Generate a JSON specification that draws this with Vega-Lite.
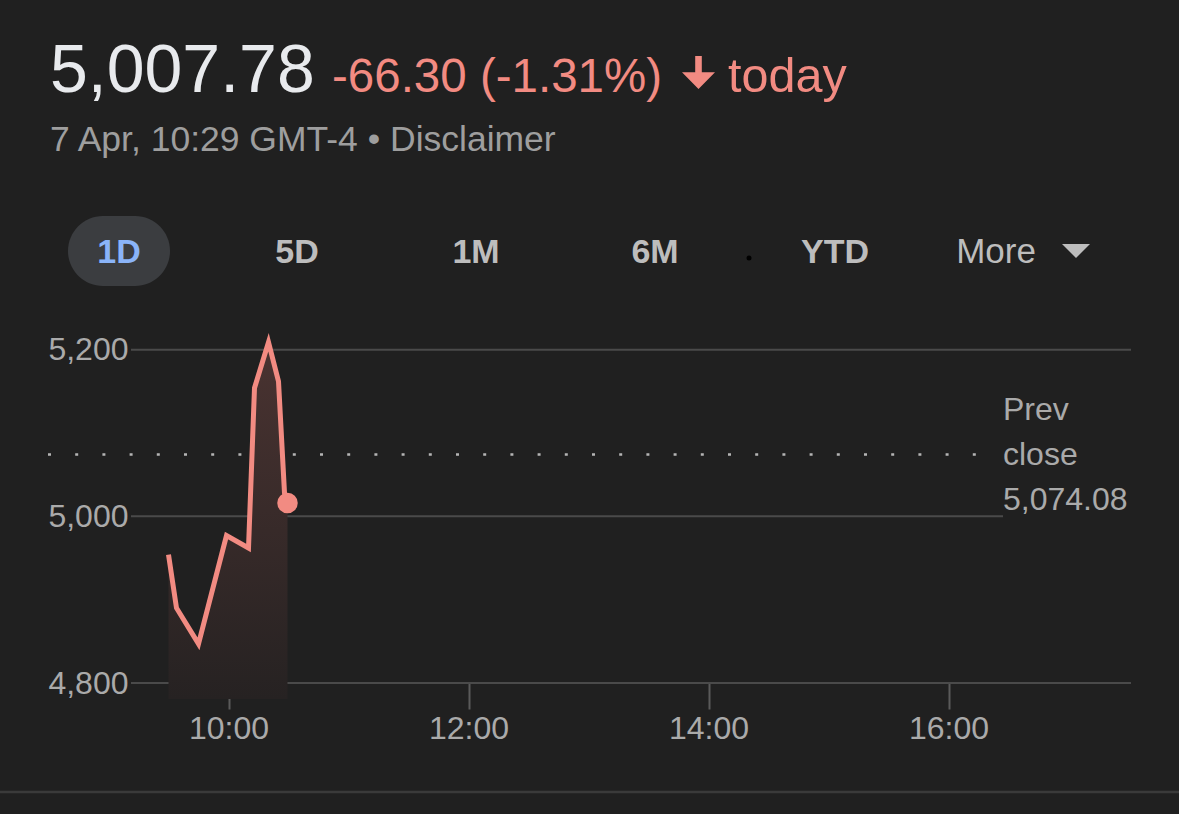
{
  "$schema": "https://vega.github.io/schema/vega-lite/v6.json",
  "width": 1000,
  "height": 353,
  "autosize": "none",
  "padding": {"left": 131, "top": 330, "right": 48, "bottom": 131},
  "background": "#202020",
  "config": {"view": {"stroke": null}, "font": "Liberation Sans"},
  "data": {
    "values": [
      {"time": "2025-04-07T09:30:00Z", "price": 4954},
      {"time": "2025-04-07T09:34:00Z", "price": 4890},
      {"time": "2025-04-07T09:45:00Z", "price": 4847},
      {"time": "2025-04-07T09:59:00Z", "price": 4977},
      {"time": "2025-04-07T10:10:00Z", "price": 4962},
      {"time": "2025-04-07T10:13:00Z", "price": 5154},
      {"time": "2025-04-07T10:20:00Z", "price": 5209},
      {"time": "2025-04-07T10:25:00Z", "price": 5162},
      {"time": "2025-04-07T10:28:00Z", "price": 5028},
      {"time": "2025-04-07T10:29:30Z", "price": 5016}
    ]
  },
  "layer": [
    {
      "data": {"values": [{"name": "separator", "level": 4669.2}]},
      "mark": {"type": "rule", "color": "#3a3a3a", "strokeWidth": 2.5},
      "encoding": {
        "y": {"field": "level", "type": "quantitative"},
        "x": {"datum": {"year": 2025, "month": 4, "date": 7, "hours": 8, "minutes": 5, "seconds": 45, "utc": true}, "type": "temporal"},
        "x2": {"datum": {"year": 2025, "month": 4, "date": 7, "hours": 17, "minutes": 55, "seconds": 15, "utc": true}}
      }
    },
    {
      "data": {"values": [{"level": 4800}, {"level": 5200}]},
      "mark": {"type": "rule", "color": "#4a4a4a", "strokeWidth": 2},
      "encoding": {"y": {"field": "level", "type": "quantitative"}}
    },
    {
      "data": {"values": [{"level": 5000}]},
      "mark": {"type": "rule", "color": "#4a4a4a", "strokeWidth": 2},
      "encoding": {
        "y": {"field": "level", "type": "quantitative"},
        "x": {"datum": {"year": 2025, "month": 4, "date": 7, "hours": 9, "minutes": 11, "seconds": 15, "utc": true}, "type": "temporal"},
        "x2": {"datum": {"year": 2025, "month": 4, "date": 7, "hours": 16, "minutes": 27, "seconds": 15, "utc": true}}
      }
    },
    {
      "data": {"values": [{"label": "Prev close", "value": 5074.08}]},
      "mark": {"type": "rule", "color": "#b5b5b5", "strokeWidth": 2.5, "strokeDash": [3, 24.2]},
      "encoding": {
        "y": {"field": "value", "type": "quantitative"},
        "x": {"datum": {"year": 2025, "month": 4, "date": 7, "hours": 8, "minutes": 29, "seconds": 45, "utc": true}, "type": "temporal"},
        "x2": {"datum": {"year": 2025, "month": 4, "date": 7, "hours": 16, "minutes": 25, "seconds": 45, "utc": true}}
      }
    },
    {
      "mark": {
        "type": "area",
        "line": false,
        "color": {
          "x1": 0, "y1": 0, "x2": 0, "y2": 1,
          "gradient": "linear",
          "stops": [
            {"offset": 0, "color": "#4a3331"},
            {"offset": 1, "color": "#262222"}
          ]
        }
      },
      "encoding": {
        "x": {"field": "time", "type": "temporal"},
        "y": {"field": "price", "type": "quantitative"},
        "y2": {"datum": 4780.8}
      }
    },
    {
      "mark": {"type": "line", "color": "#f28b82", "strokeWidth": 5, "strokeJoin": "miter"},
      "encoding": {
        "x": {
          "field": "time",
          "type": "temporal",
          "scale": {
            "type": "utc",
            "nice": false,
            "domain": [
              {"year": 2025, "month": 4, "date": 7, "hours": 9, "minutes": 11, "seconds": 15, "utc": true},
              {"year": 2025, "month": 4, "date": 7, "hours": 17, "minutes": 31, "seconds": 15, "utc": true}
            ]
          },
          "axis": {
            "values": [
              {"year": 2025, "month": 4, "date": 7, "hours": 10, "utc": true},
              {"year": 2025, "month": 4, "date": 7, "hours": 12, "utc": true},
              {"year": 2025, "month": 4, "date": 7, "hours": 14, "utc": true},
              {"year": 2025, "month": 4, "date": 7, "hours": 16, "utc": true}
            ],
            "format": "%H:%M",
            "labelFontSize": 32,
            "labelFont": "Liberation Sans",
            "labelColor": "#aaaaaa",
            "tickSize": 26,
            "tickColor": "#5a5a5a",
            "tickWidth": 2,
            "domain": false,
            "grid": false,
            "labelPadding": 4,
            "labelFlush": false,
            "labelOverlap": false,
            "title": null
          }
        },
        "y": {
          "field": "price",
          "type": "quantitative",
          "scale": {"domain": [4800, 5223.6], "nice": false, "zero": false},
          "axis": {
            "values": [4800, 5000, 5200],
            "format": ",.0f",
            "labelFontSize": 32,
            "labelFont": "Liberation Sans",
            "labelColor": "#aaaaaa",
            "ticks": false,
            "domain": false,
            "grid": false,
            "labelPadding": 3,
            "labelFlush": false,
            "labelOverlap": false,
            "title": null
          }
        }
      }
    },
    {
      "transform": [
        {"joinaggregate": [{"op": "max", "field": "time", "as": "last"}]},
        {"filter": "+datum.time === +datum.last"}
      ],
      "mark": {"type": "point", "filled": true, "opacity": 1, "color": "#f28b82", "size": 420},
      "encoding": {
        "x": {"field": "time", "type": "temporal"},
        "y": {"field": "price", "type": "quantitative"}
      }
    },
    {
      "data": {"values": [{"label": "Prev close", "value": 5074.08}]},
      "mark": {"type": "text", "align": "left", "baseline": "middle", "fontSize": 32, "lineHeight": 45, "color": "#aaaaaa", "dy": -45},
      "encoding": {
        "text": {"value": ["Prev", "close", "5,074.08"]},
        "y": {"field": "value", "type": "quantitative"},
        "x": {"datum": {"year": 2025, "month": 4, "date": 7, "hours": 16, "minutes": 27, "seconds": 15, "utc": true}, "type": "temporal"}
      }
    },
    {
      "data": {"values": [{"label": "5,007.78"}]},
      "mark": {"type": "text", "align": "left", "baseline": "alphabetic", "fontSize": 68, "color": "#e8eaed"},
      "encoding": {
        "text": {"field": "label"},
        "x": {"datum": {"year": 2025, "month": 4, "date": 7, "hours": 8, "minutes": 30, "seconds": 45, "utc": true}, "type": "temporal"},
        "y": {"datum": 5509.2, "type": "quantitative"}
      }
    },
    {
      "data": {"values": [{"label": "-66.30 (-1.31%)"}]},
      "mark": {"type": "text", "align": "left", "baseline": "alphabetic", "fontSize": 47.5, "color": "#f28b82"},
      "encoding": {
        "text": {"field": "label"},
        "x": {"datum": {"year": 2025, "month": 4, "date": 7, "hours": 10, "minutes": 51, "seconds": 45, "utc": true}, "type": "temporal"},
        "y": {"datum": 5509.2, "type": "quantitative"}
      }
    },
    {
      "data": {"values": [{"label": "down arrow"}]},
      "mark": {"type": "point", "filled": true, "opacity": 1, "color": "#f28b82", "size": 1089, "shape": "M-0.2,-1L0.2,-1L0.2,-0.02L1,-0.02L0,1L-1,-0.02L-0.2,-0.02Z"},
      "encoding": {
        "x": {"datum": {"year": 2025, "month": 4, "date": 7, "hours": 13, "minutes": 55, "utc": true}, "type": "temporal"},
        "y": {"datum": 5532.6, "type": "quantitative"}
      }
    },
    {
      "data": {"values": [{"label": "today"}]},
      "mark": {"type": "text", "align": "left", "baseline": "alphabetic", "fontSize": 48.5, "color": "#f28b82"},
      "encoding": {
        "text": {"field": "label"},
        "x": {"datum": {"year": 2025, "month": 4, "date": 7, "hours": 14, "minutes": 9, "seconds": 45, "utc": true}, "type": "temporal"},
        "y": {"datum": 5509.2, "type": "quantitative"}
      }
    },
    {
      "data": {"values": [{"label": "7 Apr, 10:29 GMT-4 • Disclaimer"}]},
      "mark": {"type": "text", "align": "left", "baseline": "alphabetic", "fontSize": 35.5, "color": "#9e9e9e"},
      "encoding": {
        "text": {"field": "label"},
        "x": {"datum": {"year": 2025, "month": 4, "date": 7, "hours": 8, "minutes": 30, "seconds": 45, "utc": true}, "type": "temporal"},
        "y": {"datum": 5438.4, "type": "quantitative"}
      }
    },
    {
      "data": {"values": [{"range": "1D"}]},
      "mark": {"type": "rect", "color": "#3b3d40", "cornerRadius": 35},
      "encoding": {
        "x": {"datum": {"year": 2025, "month": 4, "date": 7, "hours": 8, "minutes": 39, "seconds": 45, "utc": true}, "type": "temporal"},
        "x2": {"datum": {"year": 2025, "month": 4, "date": 7, "hours": 9, "minutes": 30, "seconds": 45, "utc": true}},
        "y": {"datum": 5360.4, "type": "quantitative"},
        "y2": {"datum": 5276.4}
      }
    },
    {
      "data": {"values": [{"label": "1D"}]},
      "mark": {"type": "text", "align": "center", "baseline": "alphabetic", "fontSize": 34, "fontWeight": "bold", "color": "#8ab4f8"},
      "encoding": {
        "text": {"field": "label"},
        "x": {"datum": {"year": 2025, "month": 4, "date": 7, "hours": 9, "minutes": 5, "seconds": 15, "utc": true}, "type": "temporal"},
        "y": {"datum": 5304, "type": "quantitative"}
      }
    },
    {
      "data": {"values": [{"label": "5D"}]},
      "mark": {"type": "text", "align": "center", "baseline": "alphabetic", "fontSize": 34, "fontWeight": "bold", "color": "#bdbdbd"},
      "encoding": {
        "text": {"field": "label"},
        "x": {"datum": {"year": 2025, "month": 4, "date": 7, "hours": 10, "minutes": 34, "seconds": 15, "utc": true}, "type": "temporal"},
        "y": {"datum": 5304, "type": "quantitative"}
      }
    },
    {
      "data": {"values": [{"label": "1M"}]},
      "mark": {"type": "text", "align": "center", "baseline": "alphabetic", "fontSize": 34, "fontWeight": "bold", "color": "#bdbdbd"},
      "encoding": {
        "text": {"field": "label"},
        "x": {"datum": {"year": 2025, "month": 4, "date": 7, "hours": 12, "minutes": 3, "seconds": 45, "utc": true}, "type": "temporal"},
        "y": {"datum": 5304, "type": "quantitative"}
      }
    },
    {
      "data": {"values": [{"label": "6M"}]},
      "mark": {"type": "text", "align": "center", "baseline": "alphabetic", "fontSize": 34, "fontWeight": "bold", "color": "#bdbdbd"},
      "encoding": {
        "text": {"field": "label"},
        "x": {"datum": {"year": 2025, "month": 4, "date": 7, "hours": 13, "minutes": 33, "seconds": 15, "utc": true}, "type": "temporal"},
        "y": {"datum": 5304, "type": "quantitative"}
      }
    },
    {
      "data": {"values": [{"label": "YTD"}]},
      "mark": {"type": "text", "align": "center", "baseline": "alphabetic", "fontSize": 34, "fontWeight": "bold", "color": "#bdbdbd"},
      "encoding": {
        "text": {"field": "label"},
        "x": {"datum": {"year": 2025, "month": 4, "date": 7, "hours": 15, "minutes": 3, "seconds": 15, "utc": true}, "type": "temporal"},
        "y": {"datum": 5304, "type": "quantitative"}
      }
    },
    {
      "data": {"values": [{"label": "More"}]},
      "mark": {"type": "text", "align": "center", "baseline": "alphabetic", "fontSize": 35, "color": "#bdbdbd"},
      "encoding": {
        "text": {"field": "label"},
        "x": {"datum": {"year": 2025, "month": 4, "date": 7, "hours": 16, "minutes": 23, "seconds": 45, "utc": true}, "type": "temporal"},
        "y": {"datum": 5304, "type": "quantitative"}
      }
    },
    {
      "data": {"values": [{"label": "dropdown"}]},
      "mark": {"type": "point", "filled": true, "opacity": 1, "color": "#bdbdbd", "shape": "M-1,-0.5L1,-0.5L0,0.5Z", "size": 784},
      "encoding": {
        "x": {"datum": {"year": 2025, "month": 4, "date": 7, "hours": 17, "minutes": 3, "seconds": 45, "utc": true}, "type": "temporal"},
        "y": {"datum": 5318.4, "type": "quantitative"}
      }
    },
    {
      "data": {"values": [{"label": "dot"}]},
      "mark": {"type": "point", "filled": true, "opacity": 1, "color": "#000000", "size": 25},
      "encoding": {
        "x": {"datum": {"year": 2025, "month": 4, "date": 7, "hours": 14, "minutes": 20, "seconds": 15, "utc": true}, "type": "temporal"},
        "y": {"datum": 5310, "type": "quantitative"}
      }
    }
  ]
}
